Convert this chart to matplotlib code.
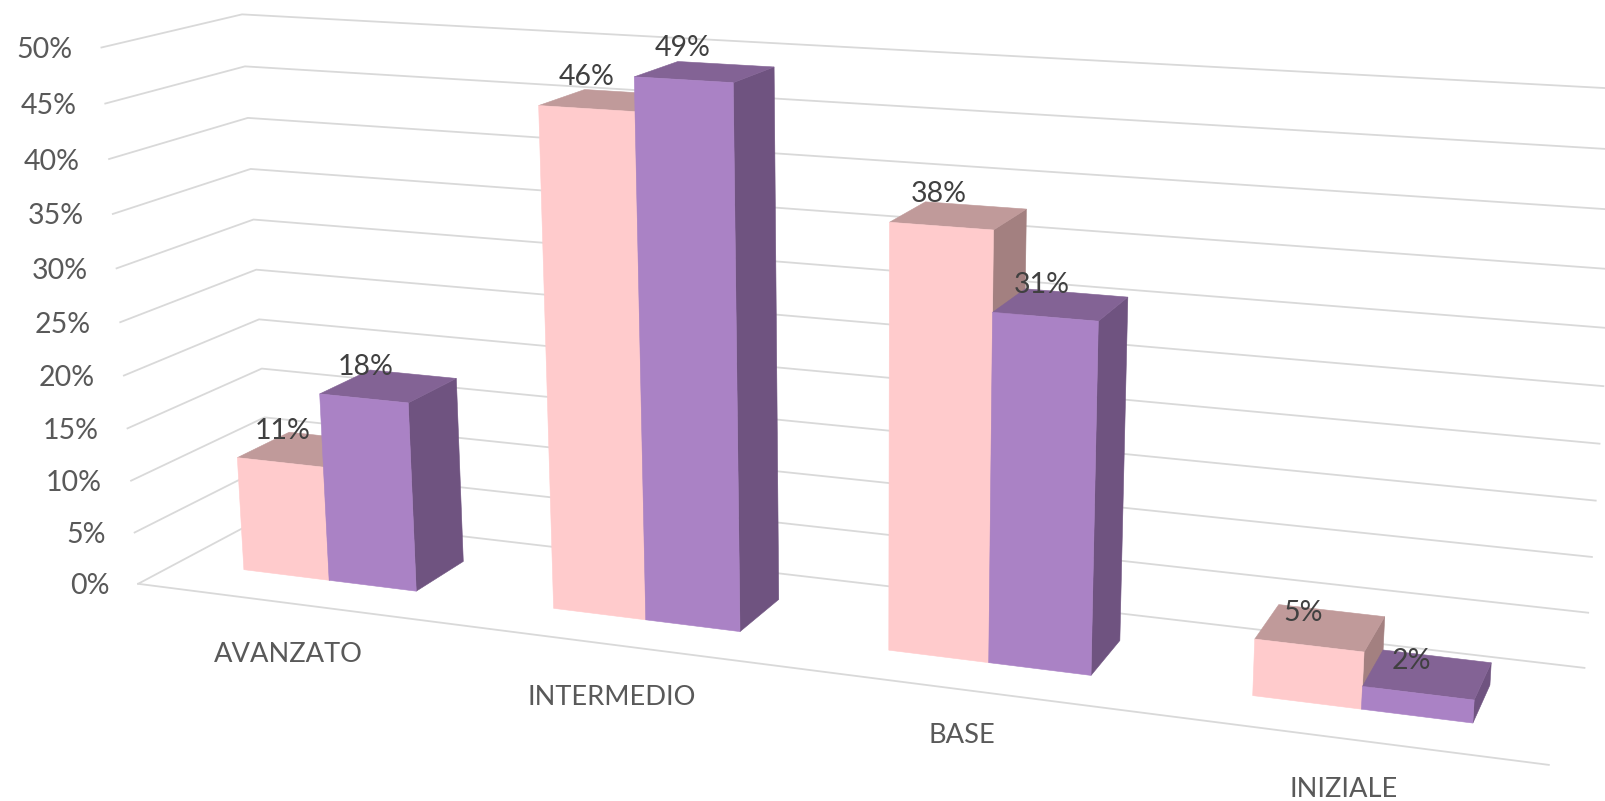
import numpy as np
import matplotlib
matplotlib.use('Agg')
import matplotlib.pyplot as plt
from matplotlib.patches import Polygon

plt.rcParams['font.family'] = ['Lato', 'DejaVu Sans']

# Data
categories = ['AVANZATO', 'INTERMEDIO', 'BASE', 'INIZIALE']
series_a = [11, 46, 38, 5]
series_b = [18, 49, 31, 2]
y_ticks = [0, 5, 10, 15, 20, 25, 30, 35, 40, 45, 50]

# Camera calibration: wall corners (category, value, depth) -> pixel
cal_world = [(0, 50, 0), (0, 45, 0), (0, 40, 0), (0, 35, 0), (0, 30, 0), (0, 20, 0), (0, 15, 0), (0, 10, 0), (0, 5, 0), (0, 0, 0),
             (0, 50, 1), (0, 45, 1), (0, 40, 1), (0, 35, 1), (0, 30, 1), (0, 25, 1), (0, 20, 1), (0, 15, 1),
             (4, 20, 1), (4, 15, 1), (4, 10, 1), (4, 5, 1), (4, 0, 1), (4, 0, 0)]
cal_pixel = [(101, 47.7), (105.3, 103.7), (109, 159), (113, 214), (116.3, 268.3), (124, 375.7), (127.7, 428.3), (131, 480.7), (134.7, 532.3), (138.3, 583.7),
             (242.7, 14.3), (245, 66.3), (247.7, 117.7), (250.7, 169), (253.3, 219.3), (256, 269.3), (259, 320), (261.7, 368.7),
             (1599.3, 443.7), (1595.7, 500.3), (1592, 557), (1588.3, 613), (1584.3, 668), (1549, 764.7)]


def fit_camera(world, pixel):
    rows = []
    for (X, Y, Z), (u, v) in zip(world, pixel):
        rows.append([X, Y, Z, 1, 0, 0, 0, 0, -u*X, -u*Y, -u*Z, -u])
        rows.append([0, 0, 0, 0, X, Y, Z, 1, -v*X, -v*Y, -v*Z, -v])
    _, _, vt = np.linalg.svd(np.array(rows, dtype=float))
    return vt[-1].reshape(3, 4)


P = fit_camera(cal_world, cal_pixel)


def project(X, Y, Z):
    q = P @ np.array([X, Y, Z, 1.0])
    return q[0] / q[2], q[1] / q[2]


# Bar geometry in category units
bar_w = 0.283
z0, z1 = 0.30, 0.70

pink = {'front': '#FFCBCC', 'top': '#C09A9A', 'side': '#A38080'}
purple = {'front': '#AA82C5', 'top': '#836395', 'side': '#6F5380'}
grid_color = '#D9D9D9'
# Excel places the category labels a little unevenly
label_drop = [36.8, 38.3, 33.3, 36.9]

fig = plt.figure(figsize=(16.06, 8.01), dpi=100)
ax = fig.add_axes([0, 0, 1, 1])
ax.set_xlim(0, 1606)
ax.set_ylim(801, 0)
ax.axis('off')

# Gridlines on the side and back walls
for v in y_ticks:
    pts = [project(0, v, 0), project(0, v, 1), project(4, v, 1)]
    ax.plot(*zip(*pts), color=grid_color, lw=1.3, zorder=1)
    x0, y0 = pts[0]
    ax.text(x0 - 29, y0 + 2.5, f'{v}%', ha='right', va='center', fontsize=20.5, color='#595959')
ax.plot(*zip(project(0, 0, 0), project(4, 0, 0)), color=grid_color, lw=1.3, zorder=1)


def draw_bar(x0, x1, val, colors):
    faces = [
        ('side', [(x1, 0, z0), (x1, 0, z1), (x1, val, z1), (x1, val, z0)]),
        ('top', [(x0, val, z0), (x1, val, z0), (x1, val, z1), (x0, val, z1)]),
        ('front', [(x0, 0, z0), (x1, 0, z0), (x1, val, z0), (x0, val, z0)]),
    ]
    for name, corners in faces:
        poly = Polygon([project(*c) for c in corners], closed=True, facecolor=colors[name],
                       edgecolor=colors[name], lw=0.4, zorder=2)
        ax.add_patch(poly)


for i, cat in enumerate(categories):
    mid = i + 0.5
    draw_bar(mid - bar_w, mid, series_a[i], pink)
    draw_bar(mid, mid + bar_w, series_b[i], purple)
    for xc, val in [(mid - bar_w / 2, series_a[i]), (mid + bar_w / 2, series_b[i])]:
        # data labels sit slightly closer to the chart centre than the bars
        ax.annotate(f'{val}%', xy=project(2 + (xc - 2) * 0.992, val, z0), xytext=(-1, 23), textcoords='offset points',
                    ha='center', va='center', fontsize=20.5, color='#404040', zorder=3)
    lx, ly = project(mid, 0, 0)
    ax.annotate(cat, xy=(lx, ly), xytext=(-1, -label_drop[i]), textcoords='offset points', ha='center', va='center',
                fontsize=19.6, color='#595959')

fig.savefig('out.png', dpi=100)
